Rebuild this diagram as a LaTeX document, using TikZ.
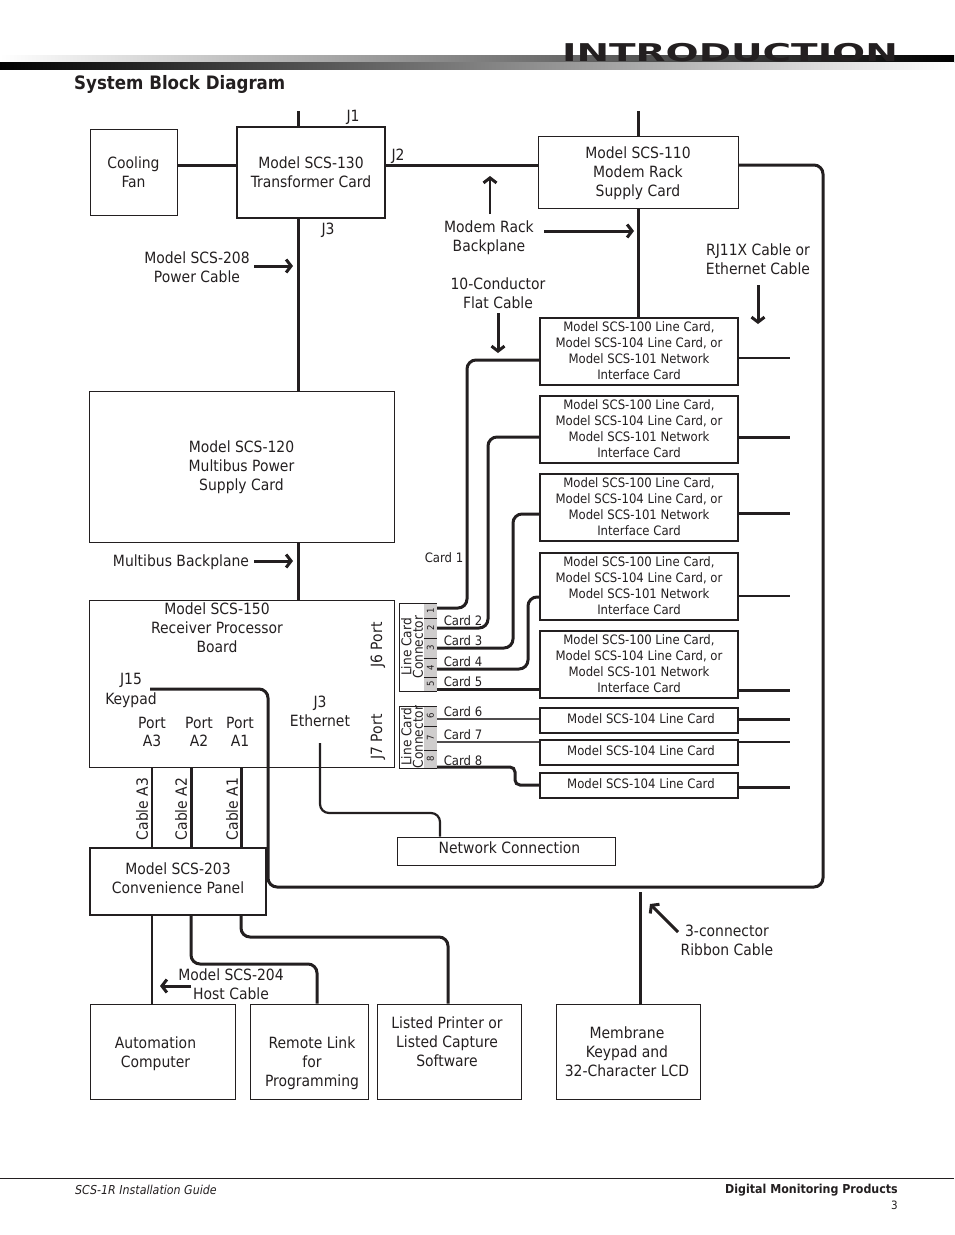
\documentclass[tikz,border=0pt]{standalone}
\usepackage{fontspec}
\setmainfont{DejaVu Sans Condensed}
\usepackage{xcolor}
\usepackage{tikz}
\usetikzlibrary{calc,arrows.meta}
\definecolor{ink}{HTML}{231F20}
\definecolor{cellgray}{HTML}{CFCDCD}
\tikzset{
  lab/.style={text=ink, align=center, font=\fontsize{15.5}{19}\selectfont, inner sep=0pt},
  labs/.style={text=ink, align=center, font=\fontsize{13}{16}\selectfont, inner sep=0pt},
  boxthin/.style={draw=ink, line width=1pt, inner sep=0pt},
  boxmid/.style={boxthin, line width=1.5pt},
  boxthick/.style={boxthin, line width=2.5pt},
  boxtext/.style 2 args={label={[lab,shift={#1}]center:{#2}}},
  cardtext/.style 2 args={label={[labs,shift={#1}]center:{#2}}},
  wire/.style={draw=ink, line width=3pt, rounded corners=9pt},
  wiregray/.style={draw=ink!80, line width=2pt},
  pointer/.style={draw=ink, line width=3pt, -{Straight Barb[length=5pt,width=13pt,line width=3pt]}},
  cell/.style={fill=cellgray, minimum height=13pt, inner sep=0pt, text=ink, font=\fontsize{9.5}{9.5}\selectfont, rotate=90},
}
\begin{document}
\begin{tikzpicture}[x=1pt,y=-1pt]
  \useasboundingbox (0,0) rectangle (954,1235);

  % page header
  \shade[left color=white, right color=black] (0,55) rectangle (954,62.5);
  \shade[left color=black, right color=white] (0,62.5) rectangle (954,69.5);
  \node[inner sep=0pt, text=ink, font=\bfseries\fontsize{14}{14}\selectfont, xscale=3.09, yscale=1.75] (hdr) at (730,53) {INTRODUCTION};
  \node[anchor=west, inner sep=0pt, font=\bfseries\fontsize{18.5}{20}\selectfont, text=ink] (title) at (74,84) {System Block Diagram};

  % boxes
  \node[boxthin, minimum width=87pt, minimum height=86pt, boxtext={(0,0.5)}{Cooling\\Fan}] (fan) at (133.5,172) {};
  \node[boxmid, minimum width=148pt, minimum height=91pt, boxtext={(0,0)}{Model SCS-130\\Transformer Card}] (trans) at (311,172.5) {};
  \node[boxthin, minimum width=200pt, minimum height=72pt, boxtext={(0,1.5)}{Model SCS-110\\Modem Rack\\Supply Card}] (modem) at (638,172) {};
  \node[boxthin, minimum width=305pt, minimum height=151pt, boxtext={(0,1)}{Model SCS-120\\Multibus Power\\Supply Card}] (mbps) at (241.5,466.5) {};
  \node[boxthin, minimum width=305pt, minimum height=167pt, boxtext={(-24.5,-55.5)}{Model SCS-150\\Receiver Processor\\Board}] (rxb) at (241.5,683.5) {};

  \foreach \n/\y in {1/351.5,2/429.5,3/507.5,4/586.5,5/664.5}
    \node[boxmid, minimum width=198pt, minimum height=67pt, cardtext={(0,-1)}{Model SCS-100 Line Card,\\Model SCS-104 Line Card, or\\Model SCS-101 Network\\Interface Card}] (lc\n) at (639,\y) {};
  \foreach \n/\y in {6/720.5,7/752.5,8/785.5}
    \node[boxmid, minimum width=198pt, minimum height=25pt, cardtext={(2,-2)}{Model SCS-104 Line Card}] (lc\n) at (639,\y) {};

  \node[boxthin, minimum width=218pt, minimum height=28pt, boxtext={(3.5,-3)}{Network Connection}] (net) at (506,851) {};
  \node[boxthick, minimum width=176pt, minimum height=67pt, boxtext={(0,-3.5)}{Model SCS-203\\Convenience Panel}] (conv) at (178,881.5) {};
  \node[boxthin, minimum width=145pt, minimum height=95pt, boxtext={(-7,2.5)}{Automation\\Computer}] (auto) at (162.5,1051.5) {};
  \node[boxthin, minimum width=118pt, minimum height=95pt, boxtext={(3,12)}{Remote Link\\for\\Programming}] (remote) at (309,1051.5) {};
  \node[boxthin, minimum width=144pt, minimum height=95pt, boxtext={(-2,-9.5)}{Listed Printer or\\Listed Capture\\Software}] (prn) at (449,1051.5) {};
  \node[boxthin, minimum width=144pt, minimum height=95pt, boxtext={(-1,0)}{Membrane\\Keypad and\\32-Character LCD}] (lcd) at (628,1051.5) {};

  % line card connectors
  \node[boxthin, minimum width=25pt, minimum height=88pt] (conna) at (411.5,647) {};
  \node[boxthin, minimum width=25pt, minimum height=62pt] (connb) at (411.5,737) {};
  \node[lab, rotate=90, font=\fontsize{13.5}{11.5}\selectfont] (connat) at (412,647) {Line Card\\Connector};
  \node[lab, rotate=90, font=\fontsize{13.5}{11.5}\selectfont] (connbt) at (412,737) {Line Card\\Connector};
  \foreach \n/\y/\h in {1/610.5/15,2/628/20,3/648/20,4/667.5/19,5/684/14,6/716/20,7/738/24,8/759/18}
    \node[cell, minimum width=\h pt] (c\n) at (430.5,\y) {\n};
  \foreach \y in {603,618,638,658,677,691,706,726,750,768}
    \draw[draw=ink, line width=0.8pt] (424,\y) -- (437,\y);

  % wires, top part
  \coordinate (jone) at (298,111);
  \coordinate (mtop) at (638,111);
  \coordinate (rowj) at (0,165);
  \draw[wire] (jone) -- (trans.north -| jone);
  \draw[wire] (mtop) -- (modem.north);
  \draw[wire] (fan.east |- rowj) -- (trans.west |- rowj);
  \draw[wire] (trans.east |- rowj) -- (modem.west |- rowj);
  \draw[wire] (trans.south -| jone) -- (mbps.north -| jone);
  \draw[wire] (mbps.south -| jone) -- (rxb.north -| jone);
  \draw[wire] (modem.south) -- (lc1.north -| modem.south);
  \coordinate (jkey) at (150,689);
  \draw[wire] (modem.east |- rowj) -- (823,165) -- (823,887) -- (268,887) -- (268,689) -- (jkey);

  % wires to the line cards
  \draw[wire] (c1.south |- 0,608) -- (467,608) -- (467,360) -- (lc1.west |- 0,360);
  \draw[wire] (c2.south |- 0,628) -- (488,628) -- (488,437) -- (lc2.west |- 0,437);
  \draw[wire] (c3.south |- 0,648) -- (513,648) -- (513,514) -- (lc3.west |- 0,514);
  \draw[wire] (c4.south |- 0,669) -- (528,669) -- (528,597) -- (lc4.west |- 0,597);
  \draw[wire] (c5.south |- 0,689) -- (lc5.west |- 0,689);
  \draw[wiregray] (c6.south |- 0,718.5) -- (lc6.west |- 0,718.5);
  \draw[wiregray] (c7.south |- 0,741.5) -- (lc7.west |- 0,741.5);
  \draw[wire, rounded corners=5pt] (c8.south |- 0,767) -- (515,767) -- (515,785) -- (lc8.west |- 0,785);
  \foreach \n/\y/\w in {1/358/1.5,2/437/3,3/513/3,4/596/1.5,5/690/3,6/719/3,7/742/1.5,8/787/3}
    \draw[draw=ink, line width=\w pt] (lc\n.east |- 0,\y) -- (790,\y);

  % cables
  \foreach \x/\w in {152/1.8,191/3,241/3}
    \draw[draw=ink, line width=\w pt] (\x,767) -- (\x,848);
  \draw[wire, line width=2pt] (152,915) -- (auto.north -| 152,0);
  \draw[wire] (191,915) -- (191,964) -- (317,964) -- (remote.north -| 317,0);
  \draw[wire] (241,915) -- (241,937) -- (448,937) -- (prn.north -| 448,0);
  \coordinate (jeth) at (320,743);
  \draw[wire, line width=2.2pt] (jeth) -- (320,813) -- (440,813) -- (net.north -| 440,0);
  \coordinate (rib) at (640,892);
  \draw[wire] (rib) -- (lcd.north -| rib);

  % pointers
  \draw[pointer, line width=2pt] (490,214) -- (490,176);
  \draw[pointer] (544,231) -- (634,231);
  \draw[pointer] (758,285) -- (758,324);
  \draw[pointer] (498,313) -- (498,353);
  \draw[pointer] (254,266) -- (293,266);
  \draw[pointer] (254,561) -- (293,561);
  \draw[pointer] (191,986) -- (160,986);
  \draw[pointer] (678,932) -- (650,904);

  % labels
  \node[lab] (jA) at (353,117) {J1};
  \node[lab] (jB) at (398,156) {J2};
  \node[lab] (jC) at (328,230) {J3};
  \node[lab] (lmr) at (489,238) {Modem Rack\\Backplane};
  \node[lab] (lcond) at (498,293) {10-Conductor\\Flat Cable};
  \node[lab] (lrj) at (758,259) {RJ11X Cable or\\Ethernet Cable};
  \node[lab] (lpow) at (197,267) {Model SCS-208\\Power Cable};
  \node[lab] (lmb) at (181,562) {Multibus Backplane};
  \node[lab, rotate=90] (lsix) at (378,645) {J6 Port};
  \node[lab, rotate=90] (lsev) at (378,737) {J7 Port};
  \node[lab] (ljf) at (131,680) {J15};
  \node[lab] (lkey) at (131,700) {Keypad};
  \node[lab, font=\fontsize{15.5}{17.5}\selectfont] (lpa) at (152,732) {Port\\A3};
  \node[lab, font=\fontsize{15.5}{17.5}\selectfont] (lpb) at (199,732) {Port\\A2};
  \node[lab, font=\fontsize{15.5}{17.5}\selectfont] (lpc) at (240,732) {Port\\A1};
  \node[lab] (leth) at (320,711) {J3\\Ethernet};
  \node[lab, rotate=90] (lcabc) at (142,809) {Cable A3};
  \node[lab, rotate=90] (lcabb) at (181,809) {Cable A2};
  \node[lab, rotate=90] (lcaba) at (232,809) {Cable A1};
  \node[lab] (lhost) at (231,984) {Model SCS-204\\Host Cable};
  \node[lab] (lrib) at (727,940) {3-connector\\Ribbon Cable};

  \foreach \n/\x/\y in {1/444/558,2/463/621,3/463/641,4/463/662,5/463/682,6/463/712,7/463/735,8/463/761}
    \node[labs] (lc\n t) at (\x,\y) {Card \n};

  % footer
  \draw[draw=ink, line width=0.6pt] (0,1178.5) -- (954,1178.5);
  \node[anchor=west, inner sep=0pt, font=\itshape\fontsize{12.3}{12}\selectfont, text=ink] (foota) at (75,1190) {SCS-1R Installation Guide};
  \node[anchor=east, inner sep=0pt, font=\bfseries\fontsize{12.3}{12}\selectfont, text=ink] (footb) at (898,1190) {Digital Monitoring Products};
  \node[anchor=east, inner sep=0pt, font=\fontsize{11.5}{12}\selectfont, text=ink] (footc) at (898,1205) {3};
\end{tikzpicture}
\end{document}
